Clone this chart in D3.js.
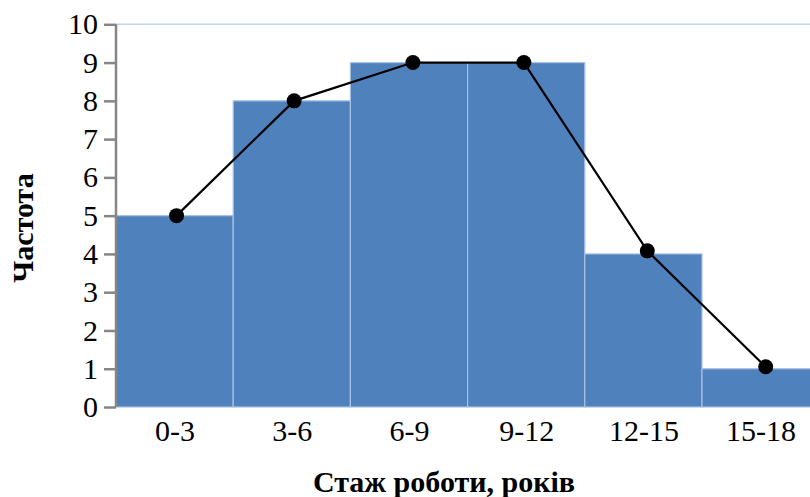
<!DOCTYPE html>
<html>
<head>
<meta charset="utf-8">
<script src="https://cdn.jsdelivr.net/npm/d3@7"></script>
<style>
  html, body { margin: 0; padding: 0; background: #ffffff; }
  svg { display: block; }
</style>
</head>
<body>
<svg id="chart" width="810" height="497"></svg>
<script>
// Work experience intervals (years) and their frequencies
const intervalLabels = ["0-3", "3-6", "6-9", "9-12", "12-15", "15-18"];
const intervalStart = [0, 3, 6, 9, 12, 15];
const intervalEnd = [3, 6, 9, 12, 15, 18];
const frequencies = [5, 8, 9, 9, 4, 1];

// Frequency polygon vertices (x in years, y as frequency)
const polygonX = [1.55, 4.56, 7.6, 10.44, 13.6, 16.63];
const polygonY = [5, 8, 9, 9, 4.08, 1.05];

const yTicks = [0, 1, 2, 3, 4, 5, 6, 7, 8, 9, 10];

const svg = d3.select("#chart");
const plotLeft = 116, plotRight = 819.2, plotTop = 24.3, plotBottom = 407;

const x = d3.scaleLinear().domain([0, 18]).range([plotLeft, plotRight]);
const y = d3.scaleLinear().domain([0, 10]).range([plotBottom, plotTop]);

const serif = "Liberation Serif, Times New Roman, serif";

// plot-area top border
svg.append("line")
  .attr("x1", plotLeft).attr("x2", 810)
  .attr("y1", y(10)).attr("y2", y(10))
  .attr("stroke", "#C5D5EF").attr("stroke-width", 1.5);

// histogram bars
const bars = intervalLabels.map((lab, i) => ({
  label: lab, x0: intervalStart[i], x1: intervalEnd[i], v: frequencies[i]
}));
svg.append("g").selectAll("rect").data(bars).join("rect")
  .attr("x", d => x(d.x0))
  .attr("y", d => y(d.v))
  .attr("width", d => x(d.x1) - x(d.x0))
  .attr("height", d => y(0) - y(d.v))
  .attr("fill", "#4F81BD")
  .attr("stroke", "#A9C1E4")
  .attr("stroke-width", 1.2);

// y axis
const yAxis = d3.axisLeft(y).tickValues(yTicks).tickSize(12).tickPadding(6).tickFormat(d3.format("d"));
const gy = svg.append("g").attr("transform", `translate(${plotLeft},0)`).call(yAxis);
gy.attr("font-family", serif).attr("font-size", 30);
gy.select(".domain")
  .attr("d", `M0,${y(10)}V${y(0)}`)
  .attr("stroke", "#868686").attr("stroke-width", 2.5);
gy.selectAll(".tick line").attr("stroke", "#868686").attr("stroke-width", 2.5);
gy.selectAll(".tick text").attr("fill", "#000");

// x category labels centred under each bar
const xAxis = d3.axisBottom(x)
  .tickValues(bars.map(d => (d.x0 + d.x1) / 2))
  .tickSize(0).tickPadding(13)
  .tickFormat((d, i) => intervalLabels[i]);
const gx = svg.append("g").attr("transform", `translate(0,${plotBottom})`).call(xAxis);
gx.attr("font-family", serif).attr("font-size", 30);
gx.select(".domain").remove();
gx.selectAll(".tick text").attr("fill", "#000");

// frequency polygon
const pts = polygonX.map((px, i) => [x(px), y(polygonY[i])]);
svg.append("path")
  .attr("d", d3.line()(pts))
  .attr("fill", "none").attr("stroke", "#000").attr("stroke-width", 2.2);
svg.append("g").selectAll("circle").data(pts).join("circle")
  .attr("cx", d => d[0]).attr("cy", d => d[1]).attr("r", 7.5)
  .attr("fill", "#000");

// axis titles
svg.append("text")
  .attr("x", 444).attr("y", 492)
  .attr("text-anchor", "middle")
  .attr("font-family", serif).attr("font-weight", "bold").attr("font-size", 30)
  .text("Стаж роботи, років");
svg.append("text")
  .attr("transform", "translate(33,228) rotate(-90)")
  .attr("text-anchor", "middle")
  .attr("font-family", serif).attr("font-weight", "bold").attr("font-size", 30)
  .text("Частота");
</script>
</body>
</html>
